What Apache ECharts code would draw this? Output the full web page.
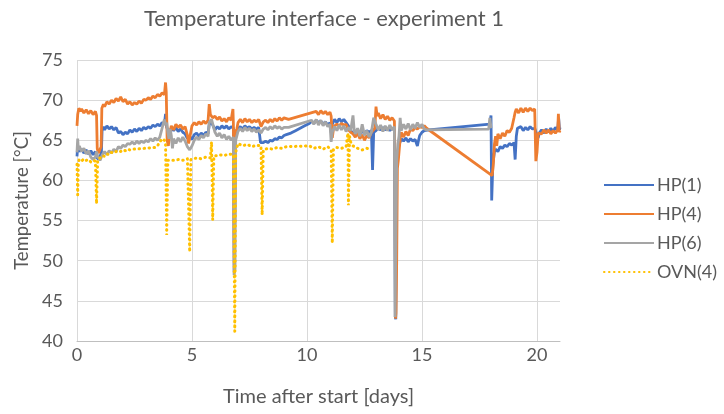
<!DOCTYPE html>
<html>
<head>
<meta charset="utf-8">
<script src="https://cdn.jsdelivr.net/npm/echarts@6/dist/echarts.min.js"></script>
<style>html,body{margin:0;padding:0;background:#fff}#c{width:724px;height:414px}</style>
</head>
<body>
<div id="c"></div>
<script>
const seriesNames = ['HP(1)', 'HP(4)', 'HP(6)', 'OVN(4)'];
const xTicks = [0, 5, 10, 15, 20];
const yTicks = [40, 45, 50, 55, 60, 65, 70, 75];

const hp1 = [
[0.00,63.0],[0.03,64.2],[0.1,63.6],[0.2,63.9],[0.3,63.4],[0.4,63.8],[0.5,63.3],[0.6,63.7],[0.7,63.2],[0.8,63.6],[0.86,62.9],[0.93,62.6],[1.0,63.0],[1.06,63.4],
[1.09,66.2],[1.15,66.7],[1.2,66.3],[1.3,66.8],[1.4,66.4],[1.5,66.7],[1.6,66.3],[1.7,66.6],[1.8,65.9],[1.9,66.1],[2.0,65.7],[2.1,66.0],[2.2,65.8],[2.3,66.3],[2.4,66.0],
[2.5,66.4],[2.6,66.1],[2.7,66.5],[2.8,66.2],[2.9,66.6],[3.0,66.4],[3.1,66.7],[3.2,66.5],[3.3,66.9],[3.4,66.7],[3.5,67.0],[3.6,66.8],[3.7,67.2],[3.8,67.0],[3.85,68.3],
[3.9,66.6],[4.0,66.0],[4.1,66.5],[4.2,66.2],[4.3,66.6],[4.4,66.1],[4.5,66.4],[4.6,66.0],[4.7,65.8],[4.8,65.2],[4.9,65.5],[5.0,65.1],[5.1,65.7],[5.2,65.9],[5.3,65.5],
[5.4,65.9],[5.5,65.6],[5.6,66.0],[5.7,65.8],[5.75,67.0],[5.85,67.2],[5.95,66.6],[6.0,66.3],[6.1,66.7],[6.2,66.4],[6.3,66.8],[6.4,66.5],[6.5,66.8],[6.6,66.4],[6.7,66.7],
[6.8,66.5],[6.84,48.5],[6.88,65.0],[6.95,66.3],[7.0,66.5],[7.1,66.7],[7.2,66.4],[7.3,66.8],[7.4,66.5],[7.5,66.7],[7.6,66.4],[7.7,66.6],[7.8,66.4],[7.9,66.6],[7.98,64.7],
[8.05,64.5],[8.1,64.7],[8.2,64.9],[8.3,64.7],[8.4,65.0],[8.5,64.9],[8.6,65.2],[8.7,65.1],[8.8,65.4],[8.9,65.3],[9.0,65.6],[9.1,65.7],[9.3,65.9],[9.5,66.2],[9.7,66.5],
[9.9,66.8],[10.1,67.1],[10.2,67.4],[10.3,67.1],[10.4,67.5],[10.5,67.2],[10.6,67.4],[10.7,67.0],[10.8,67.3],[10.9,66.9],[11.0,67.2],[11.05,66.0],[11.1,67.0],[11.2,67.6],
[11.3,67.2],[11.4,67.7],[11.5,67.3],[11.6,67.6],[11.7,67.2],[11.8,66.8],[11.9,66.2],[12.0,65.9],[12.1,65.6],[12.2,66.0],[12.3,65.8],[12.4,66.1],[12.5,65.9],[12.6,66.2],
[12.7,66.0],[12.8,66.2],[12.85,61.3],[12.9,66.0],[13.0,66.2],[13.1,66.5],[13.2,66.3],[13.3,66.6],[13.4,66.3],[13.5,66.5],[13.6,66.2],[13.7,66.5],[13.8,66.3],[13.84,43.0],
[13.86,42.7],[13.9,62.0],[13.95,63.5],[14.0,64.4],[14.1,65.2],[14.2,64.9],[14.3,65.3],[14.4,64.8],[14.5,65.2],[14.6,64.9],[14.7,65.1],[14.8,64.3],[14.85,65.0],[14.9,65.6],
[15.0,66.0],[15.1,66.2],[15.3,66.3],[17.95,67.0],[18.0,68.1],[18.03,57.5],[18.08,62.0],[18.15,63.6],[18.2,63.9],[18.3,63.6],[18.4,64.2],[18.5,64.0],[18.6,64.4],[18.7,64.2],
[18.8,64.6],[18.9,64.4],[19.0,64.7],[19.05,62.6],[19.1,65.5],[19.15,66.5],[19.2,66.3],[19.3,66.7],[19.4,66.2],[19.5,66.6],[19.6,66.3],[19.7,66.7],[19.8,66.4],[19.9,66.5],
[20.0,65.6],[20.05,65.3],[20.1,65.9],[20.2,66.3],[20.3,65.9],[20.4,66.4],[20.5,66.0],[20.6,66.5],[20.7,66.1],[20.8,66.6],[20.9,66.2],[20.94,67.8],[20.98,66.3],[21.0,66.6]
];

const hp4 = [
[0.00,66.8],[0.03,68.2],[0.08,69.0],[0.15,68.6],[0.2,68.9],[0.3,68.4],[0.4,68.8],[0.5,68.3],[0.6,68.7],[0.7,68.2],[0.8,68.6],[0.85,68.1],[0.88,64.0],[0.93,63.4],[1.0,63.6],
[1.05,64.2],[1.08,69.0],[1.15,69.5],[1.2,69.2],[1.3,69.8],[1.4,69.5],[1.5,70.0],[1.6,69.7],[1.7,70.2],[1.8,69.9],[1.9,70.4],[2.0,69.8],[2.1,70.1],[2.2,69.5],[2.3,69.8],
[2.4,69.4],[2.5,69.7],[2.6,69.5],[2.7,69.9],[2.8,69.6],[2.9,70.1],[3.0,70.0],[3.1,70.3],[3.2,70.1],[3.3,70.5],[3.4,70.3],[3.5,70.7],[3.6,70.5],[3.7,70.9],[3.8,70.7],
[3.85,72.2],[3.88,71.0],[3.92,65.0],[3.97,64.3],[4.05,66.0],[4.1,66.8],[4.2,66.3],[4.3,67.0],[4.4,66.6],[4.5,66.9],[4.6,66.4],[4.7,66.7],[4.8,65.6],[4.85,64.6],[4.9,65.3],
[5.0,66.8],[5.1,67.2],[5.2,66.9],[5.3,67.3],[5.4,67.0],[5.5,67.4],[5.6,67.1],[5.7,67.5],[5.75,69.5],[5.8,68.2],[5.9,67.8],[6.0,68.0],[6.1,67.6],[6.2,67.9],[6.3,67.4],
[6.4,67.7],[6.5,67.3],[6.6,67.8],[6.7,67.5],[6.78,68.9],[6.8,67.0],[6.84,48.6],[6.88,66.0],[6.95,66.4],[7.0,67.2],[7.1,67.6],[7.2,67.2],[7.3,67.7],[7.4,67.3],[7.5,67.6],
[7.6,67.2],[7.7,67.5],[7.8,67.3],[7.9,67.6],[8.0,66.7],[8.05,66.5],[8.1,67.3],[8.2,67.5],[8.3,67.2],[8.4,67.6],[8.5,67.3],[8.6,67.7],[8.7,67.4],[8.8,67.8],[8.9,67.5],
[9.0,67.8],[9.2,67.6],[10.4,68.6],[10.5,68.2],[10.6,68.7],[10.7,68.3],[10.8,68.6],[10.9,68.2],[11.0,68.5],[11.05,68.0],[11.1,65.3],[11.15,66.4],[11.2,66.8],[11.3,67.0],
[11.4,66.8],[11.5,67.1],[11.6,66.9],[11.7,67.0],[11.8,66.3],[11.9,66.0],[12.0,65.8],[12.1,65.4],[12.2,65.9],[12.3,65.2],[12.4,65.7],[12.5,65.0],[12.6,65.6],[12.7,65.3],
[12.8,66.0],[12.95,66.5],[13.0,69.2],[13.05,68.0],[13.1,68.4],[13.2,67.7],[13.3,68.2],[13.4,67.6],[13.5,68.0],[13.6,67.5],[13.7,67.8],[13.8,67.4],[13.83,61.0],[13.85,42.8],
[13.87,43.5],[13.9,50.0],[13.93,61.5],[13.97,62.5],[14.05,65.2],[14.1,66.0],[14.2,65.4],[14.3,66.1],[14.4,65.6],[14.5,66.4],[14.6,66.2],[14.7,66.6],[14.8,66.4],[14.9,66.7],
[15.0,66.6],[15.1,66.8],[15.2,66.5],[18.05,60.6],[18.1,62.0],[18.15,64.5],[18.2,65.5],[18.25,64.3],[18.3,65.8],[18.4,65.2],[18.5,65.9],[18.6,65.5],[18.7,66.2],[18.8,66.0],
[18.9,66.5],[19.0,67.8],[19.05,68.5],[19.1,68.9],[19.2,68.4],[19.3,69.0],[19.4,68.5],[19.5,69.0],[19.6,68.6],[19.7,69.0],[19.8,68.7],[19.9,68.9],[19.95,62.4],[20.0,63.5],
[20.05,65.9],[20.1,66.1],[20.2,65.8],[20.3,66.3],[20.4,65.9],[20.5,66.3],[20.6,65.8],[20.7,66.2],[20.8,65.9],[20.9,66.3],[20.93,68.3],[20.97,66.0],[21.0,66.2]
];

const hp6 = [
[0.00,63.5],[0.03,65.2],[0.06,63.8],[0.1,64.3],[0.2,63.6],[0.3,64.0],[0.4,63.3],[0.5,63.7],[0.6,62.9],[0.7,62.6],[0.8,62.9],[0.85,63.6],[0.9,63.0],[1.0,62.5],[1.1,63.2],
[1.2,63.6],[1.3,63.2],[1.4,63.7],[1.5,63.4],[1.6,63.9],[1.7,63.6],[1.8,64.2],[1.9,64.0],[2.0,64.4],[2.1,64.2],[2.2,64.6],[2.3,64.5],[2.4,64.8],[2.5,64.5],[2.6,64.9],
[2.7,64.6],[2.8,64.9],[2.9,64.7],[3.0,65.0],[3.1,64.8],[3.2,65.2],[3.3,64.9],[3.4,65.3],[3.5,65.0],[3.6,65.4],[3.7,66.5],[3.8,67.6],[3.85,66.9],[3.9,67.2],[3.95,66.0],
[4.0,65.2],[4.05,66.4],[4.1,65.6],[4.15,64.0],[4.2,65.2],[4.3,64.6],[4.4,65.3],[4.5,64.8],[4.6,65.4],[4.7,64.9],[4.8,64.2],[4.9,63.8],[5.0,64.3],[5.1,65.0],[5.2,65.4],
[5.3,65.1],[5.4,65.6],[5.5,65.3],[5.6,65.8],[5.7,65.5],[5.75,67.2],[5.85,67.6],[5.95,66.5],[6.0,66.0],[6.1,65.5],[6.2,65.9],[6.3,65.3],[6.4,65.7],[6.5,65.1],[6.6,65.5],
[6.7,65.0],[6.8,65.4],[6.83,48.2],[6.87,49.0],[6.9,65.0],[7.0,66.1],[7.1,66.5],[7.2,66.1],[7.3,66.6],[7.4,66.2],[7.5,66.5],[7.6,66.1],[7.7,66.4],[7.8,66.0],[7.9,66.3],
[8.0,65.9],[8.1,66.4],[8.2,66.6],[8.3,66.3],[8.4,66.7],[8.5,66.4],[8.6,66.8],[8.7,66.5],[8.8,66.7],[8.9,66.4],[9.0,66.6],[9.2,66.6],[10.2,67.5],[10.3,67.0],[10.4,67.6],
[10.5,66.9],[10.6,67.5],[10.7,66.8],[10.8,67.3],[10.9,66.7],[11.0,67.0],[11.05,64.8],[11.1,66.0],[11.2,66.7],[11.3,66.2],[11.4,66.9],[11.5,66.3],[11.6,66.8],[11.7,66.1],
[11.8,66.6],[11.9,66.2],[12.0,68.1],[12.05,66.3],[12.1,65.8],[12.2,66.5],[12.3,65.5],[12.4,67.0],[12.5,65.6],[12.6,66.2],[12.7,65.4],[12.8,66.0],[12.9,67.8],[13.0,67.0],
[13.1,66.3],[13.2,66.9],[13.3,66.1],[13.4,66.8],[13.5,66.2],[13.6,66.9],[13.7,66.3],[13.8,66.7],[13.83,43.0],[13.86,42.9],[13.9,62.5],[13.95,64.5],[14.0,65.5],[14.05,67.8],
[14.1,66.2],[14.2,67.0],[14.3,66.4],[14.4,67.1],[14.5,66.3],[14.6,67.0],[14.7,66.5],[14.8,67.2],[14.9,66.6],[15.0,67.0],[15.1,66.4],[15.2,66.3],[17.9,66.4],[17.95,67.8],
[18.0,66.5]
];

const ovn4 = [
[0.00,62.0],[0.03,58.2],[0.06,62.3],[0.1,62.6],[0.2,62.4],[0.3,62.7],[0.4,62.5],[0.5,62.6],[0.6,62.3],[0.7,62.5],[0.8,62.4],[0.85,57.1],[0.9,62.5],[1.0,62.8],[1.1,63.1],
[1.2,63.0],[1.3,63.3],[1.4,63.2],[1.5,63.5],[1.6,63.4],[1.7,63.6],[1.8,63.7],[1.9,63.6],[2.0,63.8],[2.1,63.7],[2.2,63.9],[2.3,63.8],[2.4,63.9],[2.5,63.9],[3.4,64.1],
[3.5,64.3],[3.6,64.8],[3.7,65.2],[3.8,65.0],[3.85,64.5],[3.9,53.2],[3.95,62.5],[4.0,62.6],[4.2,62.5],[4.4,62.6],[4.6,62.5],[4.8,62.7],[4.9,51.1],[4.95,62.6],[5.0,62.7],
[5.2,62.8],[5.4,62.7],[5.6,62.9],[5.8,62.8],[5.85,64.8],[5.9,55.1],[5.95,63.0],[6.0,63.1],[6.2,63.2],[6.4,63.1],[6.6,63.3],[6.8,63.2],[6.86,41.2],[6.9,63.5],[7.0,64.6],
[7.2,64.3],[7.4,64.5],[7.6,64.2],[7.8,64.4],[8.0,64.3],[8.05,55.7],[8.1,63.8],[8.3,64.0],[8.5,63.9],[8.7,64.1],[8.9,64.0],[9.1,64.2],[10.1,64.3],[10.3,64.0],[10.5,64.2],
[10.7,63.9],[10.9,64.2],[11.05,63.8],[11.1,52.2],[11.15,63.9],[11.3,64.1],[11.5,64.0],[11.7,64.2],[11.78,65.9],[11.8,56.9],[11.85,65.5],[11.9,64.8],[12.0,64.3],[12.2,64.0],
[12.4,63.8],[12.6,64.0],[12.7,63.9]
];

const colors = ['#4472C4', '#ED7D31', '#A5A5A5', '#FFC000'];
const txt = '#595959';
const font = 'Lato, "Open Sans", sans-serif';

const chart = echarts.init(document.getElementById('c'));
const lineSeries = (name, data, color, extra) => Object.assign({
  name, type: 'line', data, symbol: 'none', animation: false,
  lineStyle: { color, width: 2.8 }, itemStyle: { color }
}, extra || {});

chart.setOption({
  animation: false,
  backgroundColor: '#fff',
  textStyle: { fontFamily: font, color: txt },
  title: {
    text: 'Temperature interface - experiment 1',
    left: 319, top: 3, textAlign: 'center',
    textStyle: { fontFamily: font, fontSize: 22, fontWeight: 'normal', color: txt }
  },
  grid: { left: 77, right: 164, top: 60, bottom: 73, containLabel: false },
  legend: {
    orient: 'vertical', left: 598, top: 171,
    itemWidth: 50, itemHeight: 14, itemGap: 11,
    itemStyle: { opacity: 0 },
    textStyle: { fontFamily: font, fontSize: 18, color: txt, padding: [0, 0, 0, -2] },
    data: seriesNames
  },
  xAxis: {
    type: 'value', min: xTicks[0], max: 21, interval: 5,
    name: 'Time after start [days]', nameLocation: 'middle', nameGap: 46,
    nameTextStyle: { fontFamily: font, fontSize: 20, color: txt },
    axisLine: { show: true, lineStyle: { color: '#bfbfbf', width: 1 } },
    axisTick: { show: false },
    axisLabel: { fontFamily: font, fontSize: 18, color: txt, margin: 5, showMaxLabel: false,
      formatter: v => xTicks.indexOf(v) >= 0 ? String(v) : '' },
    splitLine: { show: true, showMaxLine: false, lineStyle: { color: '#d9d9d9', width: 1 } }
  },
  yAxis: {
    type: 'value', min: yTicks[0], max: yTicks[yTicks.length - 1], interval: 5,
    name: 'Temperature [°C]', nameLocation: 'middle', nameGap: 43,
    nameTextStyle: { fontFamily: font, fontSize: 18.5, color: txt },
    axisLine: { show: false },
    axisTick: { show: false },
    axisLabel: { fontFamily: font, fontSize: 18, color: txt, margin: 14 },
    splitLine: { show: true, lineStyle: { color: '#d9d9d9', width: 1 } }
  },
  series: [
    lineSeries(seriesNames[0], hp1, colors[0]),
    lineSeries(seriesNames[1], hp4, colors[1]),
    lineSeries(seriesNames[2], hp6, colors[2]),
    lineSeries(seriesNames[3], ovn4, colors[3], {
      lineStyle: { color: colors[3], width: 3, type: [0.5, 4.5], cap: 'round' }
    })
  ]
});
</script>
</body>
</html>
